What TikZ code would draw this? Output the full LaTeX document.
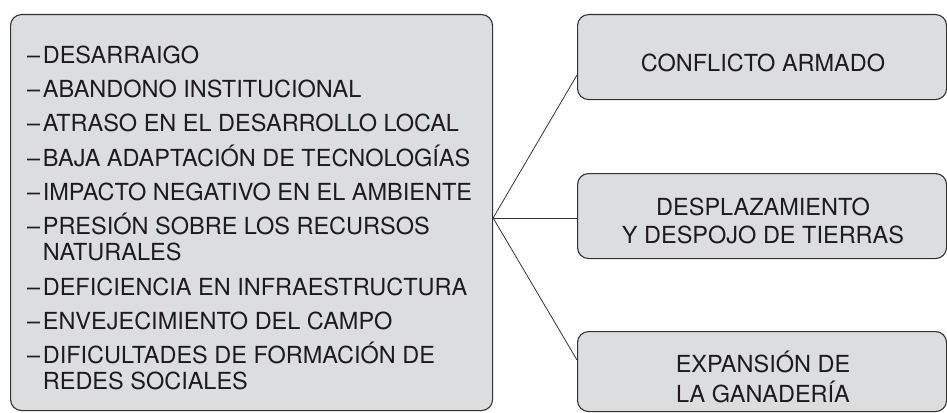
\documentclass[tikz,border=0pt]{standalone}
\usepackage{fontspec}
\setmainfont{TeX Gyre Heros}
\definecolor{boxfill}{RGB}{220,221,223}
\definecolor{boxline}{RGB}{50,50,50}
\definecolor{ink}{RGB}{30,27,28}
\newcommand{\dsh}{–\kern2.6pt}
\begin{document}
\begin{tikzpicture}[x=1pt,y=-1pt,
  panel/.style={draw=boxline,line width=1.1pt,fill=boxfill,rounded corners=11pt,
    rectangle,inner sep=0pt,anchor=north west},
  item/.style={anchor=base west,inner sep=0pt,text=ink,font=\fontsize{23.5}{26}\selectfont},
  label/.style={inner sep=0pt,text=ink,align=center,font=\fontsize{23.5}{28}\selectfont},
  link/.style={draw=boxline,line width=0.8pt}]
\useasboundingbox (0,0) rectangle (947,412);
% left panel
\node[panel,minimum width=482pt,minimum height=396pt] (L) at (10,14) {};
% right panels
\node[panel,minimum width=369pt,minimum height=85pt] (A) at (577,14) {};
\node[panel,minimum width=369pt,minimum height=85pt] (B) at (577,173) {};
\node[panel,minimum width=369pt,minimum height=80pt] (C) at (577,331) {};
% list items
\node[item] (i1) at (27,63.5) {\dsh DESARRAIGO};
\node[item] (i2) at (27,97.7) {\dsh ABANDONO INSTITUCIONAL};
\node[item] (i3) at (27,131.9) {\dsh ATRASO EN EL DESARROLLO LOCAL};
\node[item] (i4) at (27,166.1) {\dsh BAJA ADAPTACIÓN DE TECNOLOGÍAS};
\node[item] (i5) at (27,200.3) {\dsh IMPACTO NEGATIVO EN EL AMBIENTE};
\node[item] (i6) at (27,234.5) {\dsh PRESIÓN SOBRE LOS RECURSOS};
\node[item] (i6b) at (27,260.8) {\phantom{\dsh}NATURALES};
\node[item] (i7) at (27,295) {\dsh DEFICIENCIA EN INFRAESTRUCTURA};
\node[item] (i8) at (27,329.2) {\dsh ENVEJECIMIENTO DEL CAMPO};
\node[item] (i9) at (27,363.4) {\dsh DIFICULTADES DE FORMACIÓN DE};
\node[item] (i9b) at (27,389.7) {\phantom{\dsh}REDES SOCIALES};
% right labels
\node[label,anchor=base] (ta) at (763,71.5) {CONFLICTO ARMADO};
\node[label,anchor=base] (tb1) at (763,215) {DESPLAZAMIENTO};
\node[label,anchor=base] (tb2) at (763,243) {Y DESPOJO DE TIERRAS};
\node[label,anchor=base] (tc1) at (763,372) {EXPANSIÓN DE};
\node[label,anchor=base] (tc2) at (763,402) {LA GANADERÍA};
% connectors
\coordinate (hub) at (L.east |- 0,218);
\coordinate (ea) at (A.west |- 0,75);
\coordinate (eb) at (B.west |- 0,218);
\coordinate (ec) at (C.west |- 0,360);
\draw[link] (hub) -- (ea);
\draw[link] (hub) -- (eb);
\draw[link] (hub) -- (ec);
\end{tikzpicture}
\end{document}
